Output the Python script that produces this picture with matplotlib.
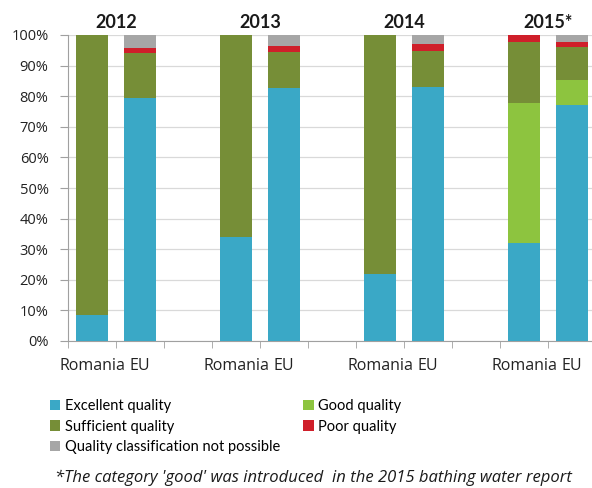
import numpy as np
import matplotlib.pyplot as plt
from matplotlib.patches import Patch

plt.rcParams['font.family'] = ['Lato', 'DejaVu Sans']

years = ['2012', '2013', '2014', '2015*']
bar_labels = ['Romania', 'EU'] * 4

# stacked shares (%) per bar: Romania 2012, EU 2012, Romania 2013, ...
excellent = [8.5, 79.5, 34.0, 82.6, 21.9, 82.9, 32.0, 77.1]
good = [0, 0, 0, 0, 0, 0, 45.7, 8.2]
sufficient = [91.5, 14.5, 66.0, 11.9, 78.1, 12.0, 20.1, 10.7]
poor = [0, 1.7, 0, 1.9, 0, 2.1, 2.2, 1.6]
not_possible = [0, 4.3, 0, 3.6, 0, 3.0, 0, 2.4]

series = [
    ('Excellent quality', excellent, '#3aa8c6'),
    ('Good quality', good, '#8dc43f'),
    ('Sufficient quality', sufficient, '#768e37'),
    ('Poor quality', poor, '#cf1f2a'),
    ('Quality classification not possible', not_possible, '#a6a6a6'),
]

# each year takes three category slots: Romania, EU, gap
pos = []
for i in range(len(years)):
    pos += [3 * i, 3 * i + 1]
pos = np.array(pos)

fig = plt.figure(figsize=(5.92, 4.88), dpi=100)
ax = fig.add_axes([68 / 592, 1 - 341 / 488, 528 / 592, 306 / 488])

bottom = np.zeros(len(pos))
for name, vals, col in series:
    vals = np.array(vals, dtype=float)
    ax.bar(pos, vals, bottom=bottom, width=0.65, color=col, zorder=3)
    bottom += vals

ax.set_xlim(-0.5, 10.5)
ax.set_ylim(0, 100)
ax.set_yticks(np.arange(0, 101, 10))
ax.set_yticklabels([f'{v}%' for v in range(0, 101, 10)],
                   fontsize=10.5, family='Open Sans', color='#222222')
ax.grid(axis='y', color='#d9d9d9', linewidth=0.9, zorder=0)

ax.set_xticks(pos)
ax.set_xticklabels(bar_labels, fontsize=11.5, family='Open Sans', color='#222222')
ax.tick_params(axis='x', length=0, pad=12)
ax.set_xticks(np.arange(-0.5, 10.6, 1), minor=True)
ax.tick_params(axis='x', which='minor', length=5, color='#a0a0a0')
ax.tick_params(axis='y', length=6, color='#a0a0a0', pad=8)

for s in ['top', 'right']:
    ax.spines[s].set_visible(False)
for s in ['left', 'bottom']:
    ax.spines[s].set_color('#a0a0a0')

for i, yr in enumerate(years):
    ax.text(3 * i + 0.5, 104, yr, ha='center', va='center',
            fontsize=13, fontweight='bold', color='#1a1a1a')

handles = [Patch(facecolor=series[k][2], label=series[k][0]) for k in [0, 2, 4, 1, 3]]
fig.legend(handles=handles, ncol=2, loc='upper left',
           bbox_to_anchor=(37 / 592, 1 - 386 / 488), frameon=False,
           fontsize=10.5, handlelength=0.7, handleheight=0.7,
           handletextpad=0.3, columnspacing=1.6, labelspacing=0.45)

fig.text(55 / 592, 1 - 478 / 488,
         "*The category 'good' was introduced  in the 2015 bathing water report",
         fontsize=12, style='italic', family='Open Sans', va='center',
         color='#1a1a1a')

fig.savefig('out.png', dpi=100)
